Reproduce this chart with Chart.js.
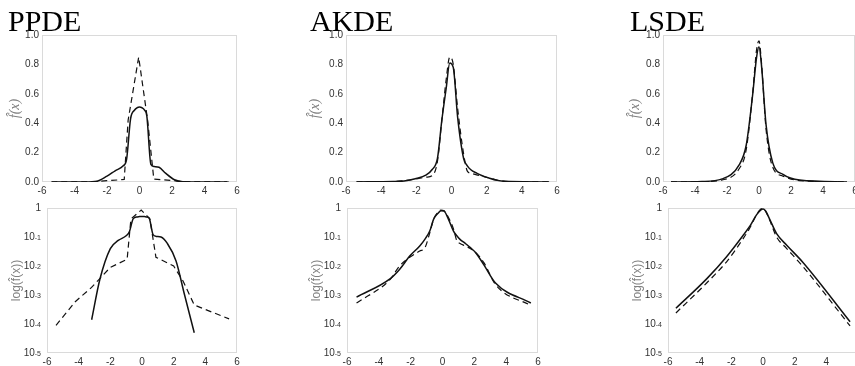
<!DOCTYPE html>
<html>
<head>
<meta charset="utf-8">
<script src="https://cdn.jsdelivr.net/npm/chart.js@4.4.1/dist/chart.umd.min.js"></script>
<style>
html, body { margin: 0; padding: 0; background: #fff; overflow: hidden; width: 855px; height: 366px; }
canvas { position: absolute; }
</style>
</head>
<body>
<canvas id="c1"></canvas>
<canvas id="c2"></canvas>
<canvas id="c3"></canvas>
<canvas id="c4"></canvas>
<canvas id="c5"></canvas>
<canvas id="c6"></canvas>
<script>
// tick values
const xTicks = [-6, -4, -2, 0, 2, 4, 6];
const linTicks = [0, 0.2, 0.4, 0.6, 0.8, 1.0];
const logTicks = [1e-5, 1e-4, 1e-3, 1e-2, 1e-1, 1];

// PPDE
const ppdeSolidX = [-5.4, -3.5, -3.18, -2.66, -2.0, -1.5, -1.0, -0.8, -0.55, -0.3, -0.15, 0, 0.15, 0.3, 0.45, 0.7, 0.9, 1.2, 1.6, 2.15, 2.67, 3.3, 3.5, 5.4];
const ppdeSolidY = [0, 0, 1.4e-4, 3.5e-3, 0.04, 0.076, 0.11, 0.15, 0.43, 0.49, 0.505, 0.51, 0.505, 0.49, 0.45, 0.12, 0.105, 0.1, 0.06, 0.015, 1.1e-3, 5e-5, 0, 0];
const ppdeDashX = [-5.43, -4.2, -3.2, -2.6, -2.0, -0.94, -0.7, -0.05, 0.5, 0.88, 2.0, 2.6, 3.3, 5.5];
const ppdeDashY = [9e-5, 6e-4, 1.8e-3, 4e-3, 9e-3, 0.017, 0.42, 0.85, 0.42, 0.02, 0.01, 3e-3, 4.5e-4, 1.5e-4];

// AKDE
const akdeX = [-5.4, -3.3, -2.7, -2.06, -1.43, -1.1, -0.8, -0.55, -0.3, -0.1, 0.1, 0.35, 0.69, 0.9, 1.1, 1.43, 1.75, 2.06, 2.6, 3.33, 5.55];
const akdeSolid = [8.5e-4, 3.6e-3, 7.6e-3, 0.022, 0.049, 0.085, 0.16, 0.42, 0.64, 0.81, 0.78, 0.44, 0.16, 0.11, 0.083, 0.06, 0.043, 0.03, 0.011, 2.6e-3, 5.3e-4];
const akdeDashed = [5.3e-4, 3.4e-3, 0.01, 0.02, 0.033, 0.043, 0.14, 0.42, 0.7, 0.85, 0.8, 0.5, 0.19, 0.074, 0.06, 0.049, 0.04, 0.03, 0.013, 2.3e-3, 4.3e-4];

// LSDE
const lsdeX = [-5.5, -3.56, -2.3, -1.24, -0.8, -0.4, -0.15, 0, 0.15, 0.44, 0.86, 1.5, 2.54, 5.5];
const lsdeSolid = [3.5e-4, 3.6e-3, 0.021, 0.117, 0.25, 0.59, 0.85, 0.92, 0.8, 0.39, 0.13, 0.052, 0.013, 1.2e-4];
const lsdeDashed = [2.4e-4, 2.6e-3, 0.014, 0.09, 0.22, 0.6, 0.9, 0.96, 0.82, 0.36, 0.1, 0.04, 0.0093, 8.6e-5];

const panels = [
  { id: 'c1', left: 0, top: 0, w: 243, h: 200, title: 'PPDE', log: false, yW: 34, tPad: 0,
    sx: ppdeSolidX, sy: ppdeSolidY, dx: ppdeDashX, dy: ppdeDashY, dashTension: 0 },
  { id: 'c2', left: 0, top: 200, w: 243, h: 166, title: null, log: true, yW: 39, tPad: 3,
    sx: ppdeSolidX, sy: ppdeSolidY, dx: ppdeDashX, dy: ppdeDashY, dashTension: 0 },
  { id: 'c3', left: 302, top: 0, w: 261, h: 200, title: 'AKDE', log: false, yW: 36, tPad: -2,
    sx: akdeX, sy: akdeSolid, dx: akdeX, dy: akdeDashed, dashTension: 0.4 },
  { id: 'c4', left: 302, top: 200, w: 242, h: 166, title: null, log: true, yW: 37, tPad: 1,
    sx: akdeX, sy: akdeSolid, dx: akdeX, dy: akdeDashed, dashTension: 0.4 },
  { id: 'c5', left: 622, top: 0, w: 239, h: 200, title: 'LSDE', log: false, yW: 33, tPad: -2,
    sx: lsdeX, sy: lsdeSolid, dx: lsdeX, dy: lsdeDashed, dashTension: 0.4 },
  { id: 'c6', left: 622, top: 200, w: 242, h: 166, title: null, log: true, yW: 38, tPad: 2,
    sx: lsdeX, sy: lsdeSolid, dx: lsdeX, dy: lsdeDashed, dashTension: 0.4 },
];

const tickFont = { family: '"Liberation Sans", Arial, sans-serif', size: 10 };

function toPoints(xs, ys, log) {
  return xs.map((x, i) => ({ x: x, y: (log && ys[i] <= 0) ? null : ys[i] }));
}

// light frame around each plot area
const frame = {
  id: 'frame',
  beforeDatasetsDraw(chart) {
    const { ctx, chartArea: a } = chart;
    ctx.save();
    ctx.strokeStyle = '#dadada';
    ctx.lineWidth = 1;
    ctx.strokeRect(a.left + 0.5, a.top + 0.5, a.width - 1, a.height - 1);
    ctx.restore();
  }
};

// "10" with a small exponent for the log axes
const expLabels = {
  id: 'expLabels',
  afterDraw(chart) {
    const s = chart.scales.y;
    if (s.type !== 'logarithmic') return;
    const ctx = chart.ctx;
    const right = s.right - 6;
    ctx.save();
    ctx.fillStyle = '#333';
    ctx.textBaseline = 'middle';
    ctx.textAlign = 'right';
    s.ticks.forEach(t => {
      const y = s.getPixelForValue(t.value);
      const e = Math.round(Math.log10(t.value));
      ctx.font = '10px "Liberation Sans", Arial, sans-serif';
      if (e === 0) {
        ctx.fillText('1', right, y);
        return;
      }
      ctx.font = '7px "Liberation Sans", Arial, sans-serif';
      const ex = String(e);
      const ew = ctx.measureText(ex).width;
      ctx.fillText(ex, right, y + 1.5);
      ctx.font = '10px "Liberation Sans", Arial, sans-serif';
      ctx.fillText('10', right - ew, y);
    });
    ctx.restore();
  }
};

panels.forEach(p => {
  const canvas = document.getElementById(p.id);
  canvas.width = p.w;
  canvas.height = p.h;
  canvas.style.left = p.left + 'px';
  canvas.style.top = p.top + 'px';

  const yScale = p.log ? {
    type: 'logarithmic',
    min: 1e-5,
    max: 1,
    afterBuildTicks: s => { s.ticks = logTicks.map(v => ({ value: v })); },
    afterFit: s => { s.width = p.yW; },
    grid: { display: false, drawTicks: false },
    border: { display: false },
    ticks: { display: false },
    title: {
      display: true, text: 'log(f\u0302(x))', color: '#808080',
      font: { family: '"Liberation Sans", Arial, sans-serif', size: 12, lineHeight: 1 },
      padding: { top: p.tPad, bottom: 0 }
    }
  } : {
    type: 'linear',
    min: 0,
    max: 1,
    afterBuildTicks: s => { s.ticks = linTicks.map(v => ({ value: v })); },
    afterFit: s => { s.width = p.yW; },
    grid: { display: false, drawTicks: false },
    border: { display: false },
    ticks: { color: '#333', font: tickFont, padding: 3, callback: v => v.toFixed(1) },
    title: {
      display: true, text: 'f\u0302(x)', color: '#808080',
      font: { family: '"Liberation Serif", serif', size: 14, style: 'italic', lineHeight: 1 },
      padding: { top: p.tPad, bottom: 0 }
    }
  };

  new Chart(canvas, {
    type: 'line',
    data: {
      datasets: [
        {
          data: toPoints(p.sx, p.sy, p.log),
          borderColor: '#111',
          borderWidth: 1.5,
          pointRadius: 0,
          fill: false,
          cubicInterpolationMode: 'monotone',
        },
        {
          data: toPoints(p.dx, p.dy, p.log),
          borderColor: '#111',
          borderWidth: 1.2,
          borderDash: [6, 4],
          pointRadius: 0,
          fill: false,
          cubicInterpolationMode: p.dashTension ? 'monotone' : 'default',
          tension: 0,
        },
      ],
    },
    options: {
      responsive: false,
      animation: false,
      events: [],
      layout: { padding: { left: 8, right: 6, top: p.title ? 0 : 8, bottom: 0 } },
      plugins: {
        legend: { display: false },
        tooltip: { enabled: false },
        title: {
          display: !!p.title,
          text: p.title || '',
          align: 'start',
          color: '#000',
          font: { family: '"Liberation Serif", "Times New Roman", serif', size: 30, weight: 'normal', lineHeight: 0.8 },
          padding: { top: 11, bottom: 0 },
        },
      },
      scales: {
        x: {
          type: 'linear',
          min: -6,
          max: 6,
          afterBuildTicks: s => { s.ticks = xTicks.map(v => ({ value: v })); },
          afterFit: s => { s.height = p.log ? 13 : 18; },
          grid: { display: false, drawTicks: false },
          border: { display: false },
          ticks: { color: '#333', font: tickFont, padding: 3, maxRotation: 0 },
        },
        y: yScale,
      },
    },
    plugins: [frame, expLabels],
  });
});
</script>
</body>
</html>
